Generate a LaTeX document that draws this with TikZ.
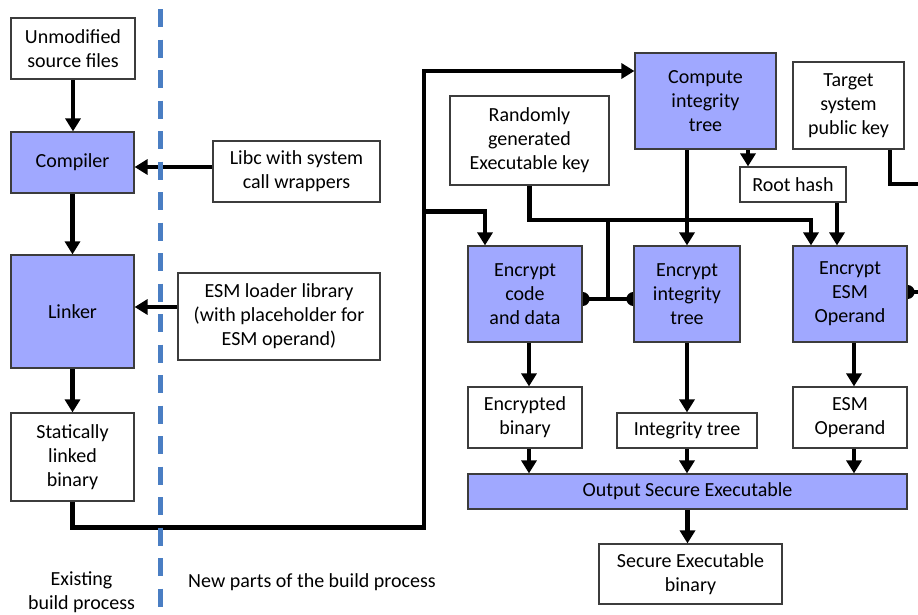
\documentclass[tikz,border=0pt]{standalone}
\usepackage{fontspec}
\setmainfont{Carlito}
\usetikzlibrary{arrows.meta}
\definecolor{boxblue}{RGB}{160,168,255}
\definecolor{dashblue}{RGB}{74,126,195}
\definecolor{edgegray}{RGB}{60,60,60}
\pgfdeclarelayer{bg}
\pgfsetlayers{bg,main}
\begin{document}
\begin{tikzpicture}[x=1pt,y=-1pt,
  box/.style={draw=edgegray, line width=1.2pt, fill=white, align=center, inner sep=0pt,
    font=\fontsize{20}{24}\selectfont},
  bbox/.style={box, fill=boxblue},
  conn/.style={line width=4.5pt},
  arr/.style={conn, -{Triangle[length=13pt,width=15pt]}},
  lbl/.style={inner sep=0pt, align=center, font=\fontsize{20}{24}\selectfont}]
\useasboundingbox (0,0) rectangle (918,614);

% dashed separator
\draw[dashblue, line width=5pt, dash pattern=on 18pt off 12.5pt] (160,9) -- (160,614);

% left column
\node[box, minimum width=124pt, minimum height=61pt] (src) at (73,48.5) {Unmodified\\source files};
\node[bbox, minimum width=123pt, minimum height=61pt] (comp) at (72.5,162.5) {Compiler};
\node[bbox, minimum width=123pt, minimum height=113pt] (link) at (72.5,311.5) {Linker};
\node[box, minimum width=123pt, minimum height=88pt] (stat) at (72.5,457) {Statically\\linked\\binary};
\node[box, minimum width=167pt, minimum height=61pt] (libc) at (296.5,171.5) {Libc with system\\call wrappers};
\node[box, minimum width=202pt, minimum height=87pt] (esm) at (279,316.5) {ESM loader library\\(with placeholder for\\ESM operand)};

% right part
\node[box, minimum width=159pt, minimum height=89pt] (key) at (529.5,140.5) {Randomly\\generated\\Executable key};
\node[bbox, minimum width=141pt, minimum height=96pt] (cit) at (705.5,101) {Compute\\integrity\\tree};
\node[box, minimum width=111pt, minimum height=87pt] (tpk) at (848.5,105.5) {Target\\system\\public key};
\node[box, minimum width=106pt, minimum height=35pt] (rh) at (793,184.5) {Root hash};
\node[bbox, minimum width=114pt, minimum height=96pt] (enc1) at (525,294) {Encrypt\\code\\and data};
\node[bbox, minimum width=106pt, minimum height=96pt] (encit) at (687,294) {Encrypt\\integrity\\tree};
\node[bbox, minimum width=114pt, minimum height=96pt] (encesm) at (850,294) {Encrypt\\ESM\\Operand};
\node[box, minimum width=114pt, minimum height=61pt] (eb) at (525,417.5) {Encrypted\\binary};
\node[box, minimum width=140pt, minimum height=35pt] (itree) at (687,430.5) {Integrity tree};
\node[box, minimum width=114pt, minimum height=61pt] (eop) at (850,417.5) {ESM\\Operand};
\node[bbox, minimum width=439pt, minimum height=35pt] (out) at (687.5,491.5) {Output Secure Executable};
\node[box, minimum width=183pt, minimum height=60pt] (seb) at (690.5,574) {Secure Executable\\binary};

% captions
\node[lbl] (exist) at (81.5,592) {Existing\\build process};
\node[lbl, anchor=base west] (newp) at (188,587) {New parts of the build process};

% helper coordinates
\coordinate (c1) at (424,527.5);
\coordinate (c2) at (424,71);
\coordinate (c3) at (424,211.5);
\coordinate (jn) at (608,220);
\coordinate (jb) at (608,299);
\coordinate (tpkend) at (920,184);
\coordinate (esmend) at (920,292);

\begin{pgfonlayer}{bg}
\draw[arr] (src.south) -- (src.south |- comp.north);
\draw[arr] (comp.south) -- (link.north);
\draw[arr] (link.south) -- (stat.north);
\draw[arr] ([yshift=4.5pt]libc.west) -- ([yshift=-4.5pt]comp.east);
\draw[arr] ([yshift=9.5pt]esm.west) -- ([yshift=4.5pt]link.east);

\draw[arr] (stat.south) |- (c1) -- (c2) -- (cit.west |- c2);
\draw[arr] (c3) -| ([xshift=-40pt]enc1.north);

\draw[arr] (key.south) |- (jn) -| ([xshift=-39pt]encesm.north);
\draw[conn] (jn) -- (jb);
\draw[conn] (enc1.east |- jb) -- (encit.west |- jb);
\fill (enc1.east |- jb) circle (7pt);
\fill (encit.west |- jb) circle (7pt);

\draw[arr] ([xshift=-45pt]rh.north |- cit.south) -- ([xshift=-45pt]rh.north);
\draw[arr] (encit.north |- cit.south) -- (encit.north);
\draw[arr] ([xshift=44pt]rh.south) -- ([xshift=44pt]rh.south |- encesm.north);
\draw[conn] ([xshift=41.5pt]tpk.south) |- (tpkend);
\draw[conn] (encesm.east |- esmend) -- (esmend);
\fill (encesm.east |- esmend) circle (7pt);

\draw[arr] ([xshift=4pt]enc1.south) -- ([xshift=4pt]eb.north);
\draw[arr] (encit.south) -- (itree.north);
\draw[arr] ([xshift=4pt]encesm.south) -- ([xshift=4pt]eop.north);
\draw[arr] ([xshift=4pt]eb.south) -- ([xshift=4pt]eb.south |- out.north);
\draw[arr] (itree.south) -- (itree.south |- out.north);
\draw[arr] ([xshift=4pt]eop.south) -- ([xshift=4pt]eop.south |- out.north);
\draw[arr] (out.south) -- (out.south |- seb.north);
\end{pgfonlayer}
\end{tikzpicture}
\end{document}
